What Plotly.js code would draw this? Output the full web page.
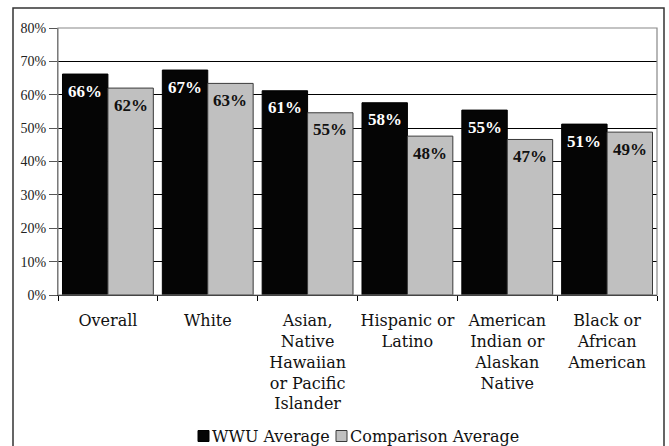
<!DOCTYPE html>
<html>
<head>
<meta charset="utf-8">
<script src="https://cdn.plot.ly/plotly-3.0.1.min.js"></script>
<style>
  html, body { margin: 0; padding: 0; background: #fff; }
  #chart { width: 669px; height: 446px; }
</style>
</head>
<body>
<div id="chart"></div>
<script>
// Group labels along the x axis
const categories = [
  'Overall',
  'White',
  'Asian,<br>Native<br>Hawaiian<br>or Pacific<br>Islander',
  'Hispanic or<br>Latino',
  'American<br>Indian or<br>Alaskan<br>Native',
  'Black or<br>African<br>American'
];

// Rates in percent
const wwuAverage = [66.2, 67.4, 61.2, 57.6, 55.4, 51.2];
const comparisonAverage = [62.0, 63.4, 54.6, 47.6, 46.6, 48.8];

const seriesNames = ['WWU Average', 'Comparison Average'];
const seriesFill = ['#050505', '#c0c0c0'];
const seriesEdge = ['#000000', '#3a3a3a'];

// Y axis ticks
const yTickValues = [0, 10, 20, 30, 40, 50, 60, 70, 80];
const yTickLabels = yTickValues.map(v => v + '%');

const serif = '"Liberation Serif", "Times New Roman", serif';
const wideSerif = '"DejaVu Serif", serif';

const traces = [wwuAverage, comparisonAverage].map((vals, k) => ({
  type: 'bar',
  name: seriesNames[k],
  x: categories,
  y: vals,
  marker: { color: seriesFill[k], line: { color: seriesEdge[k], width: 1 } },
  showlegend: false,
  hoverinfo: 'skip'
}));

// Value labels sit just inside the top of each bar
const barOffset = 22.7;
const annotations = [];
[wwuAverage, comparisonAverage].forEach((vals, k) => {
  vals.forEach((v, i) => {
    annotations.push({
      x: categories[i], y: v, xref: 'x', yref: 'y',
      xshift: k === 0 ? -barOffset : barOffset,
      yshift: -17, yanchor: 'middle', xanchor: 'center',
      text: '<b>' + Math.round(v) + '%</b>', showarrow: false,
      font: { family: serif, size: 17, color: k === 0 ? '#ffffff' : '#111111' }
    });
  });
});

// Plot area geometry in pixels, used to place the key below the labels
const M = { l: 58, r: 12, t: 28, b: 151 };
const plotW = 669 - M.l - M.r;
const plotH = 446 - M.t - M.b;
const px = x => (x - M.l) / plotW;
const py = y => (446 - M.b - y) / plotH;

// Key: a small swatch followed by the series name
const keyRowY = 436;
const keySwatchLeft = [198, 336];
const swatch = 11;
const shapes = [];
seriesNames.forEach((name, k) => {
  const x0 = keySwatchLeft[k];
  shapes.push({
    type: 'rect', xref: 'paper', yref: 'paper',
    x0: px(x0), x1: px(x0 + swatch),
    y0: py(keyRowY + swatch / 2), y1: py(keyRowY - swatch / 2),
    fillcolor: seriesFill[k],
    line: { color: seriesEdge[k], width: 1 },
    layer: 'above'
  });
  annotations.push({
    xref: 'paper', yref: 'paper',
    x: px(x0 + swatch + 1), y: py(keyRowY),
    xanchor: 'left', yanchor: 'middle',
    text: name, showarrow: false,
    font: { family: wideSerif, size: 16, color: '#111111' }
  });
});

// Plot area frame (top and right edges are lighter than the grid)
shapes.push({
  type: 'rect', xref: 'paper', yref: 'paper',
  x0: 0, x1: 1, y0: 0, y1: 1,
  line: { color: '#888888', width: 1.2 },
  layer: 'above'
});
// Outer chart border
shapes.push({
  type: 'rect', xref: 'paper', yref: 'paper',
  x0: px(13), x1: px(664), y0: py(460), y1: py(8),
  line: { color: '#333333', width: 1.5 },
  layer: 'above'
});

const layout = {
  width: 669,
  height: 446,
  margin: { l: M.l, r: M.r, t: M.t, b: M.b, pad: 0, autoexpand: false },
  paper_bgcolor: '#ffffff',
  plot_bgcolor: '#ffffff',
  barmode: 'group',
  bargap: 0.09,
  bargroupgap: 0,
  showlegend: false,
  xaxis: {
    type: 'category',
    automargin: false,
    tickangle: 0,
    tickson: 'boundaries',
    ticks: 'outside',
    ticklen: 5,
    tickcolor: '#000000',
    showline: true,
    linecolor: '#000000',
    linewidth: 1,
    showgrid: false,
    zeroline: false,
    ticklabelstandoff: 11,
    tickfont: { family: wideSerif, size: 16, color: '#111111' },
    fixedrange: true
  },
  yaxis: {
    automargin: false,
    range: [0, 80],
    tickvals: yTickValues,
    ticktext: yTickLabels,
    ticks: 'outside',
    ticklen: 8,
    tickcolor: '#555555',
    showline: true,
    linecolor: '#666666',
    linewidth: 1,
    showgrid: true,
    gridcolor: '#000000',
    gridwidth: 1,
    zeroline: false,
    tickfont: { family: serif, size: 14, color: '#222222' },
    fixedrange: true
  },
  shapes: shapes,
  annotations: annotations
};

Plotly.newPlot('chart', traces, layout, { displayModeBar: false, staticPlot: true });
</script>
</body>
</html>
